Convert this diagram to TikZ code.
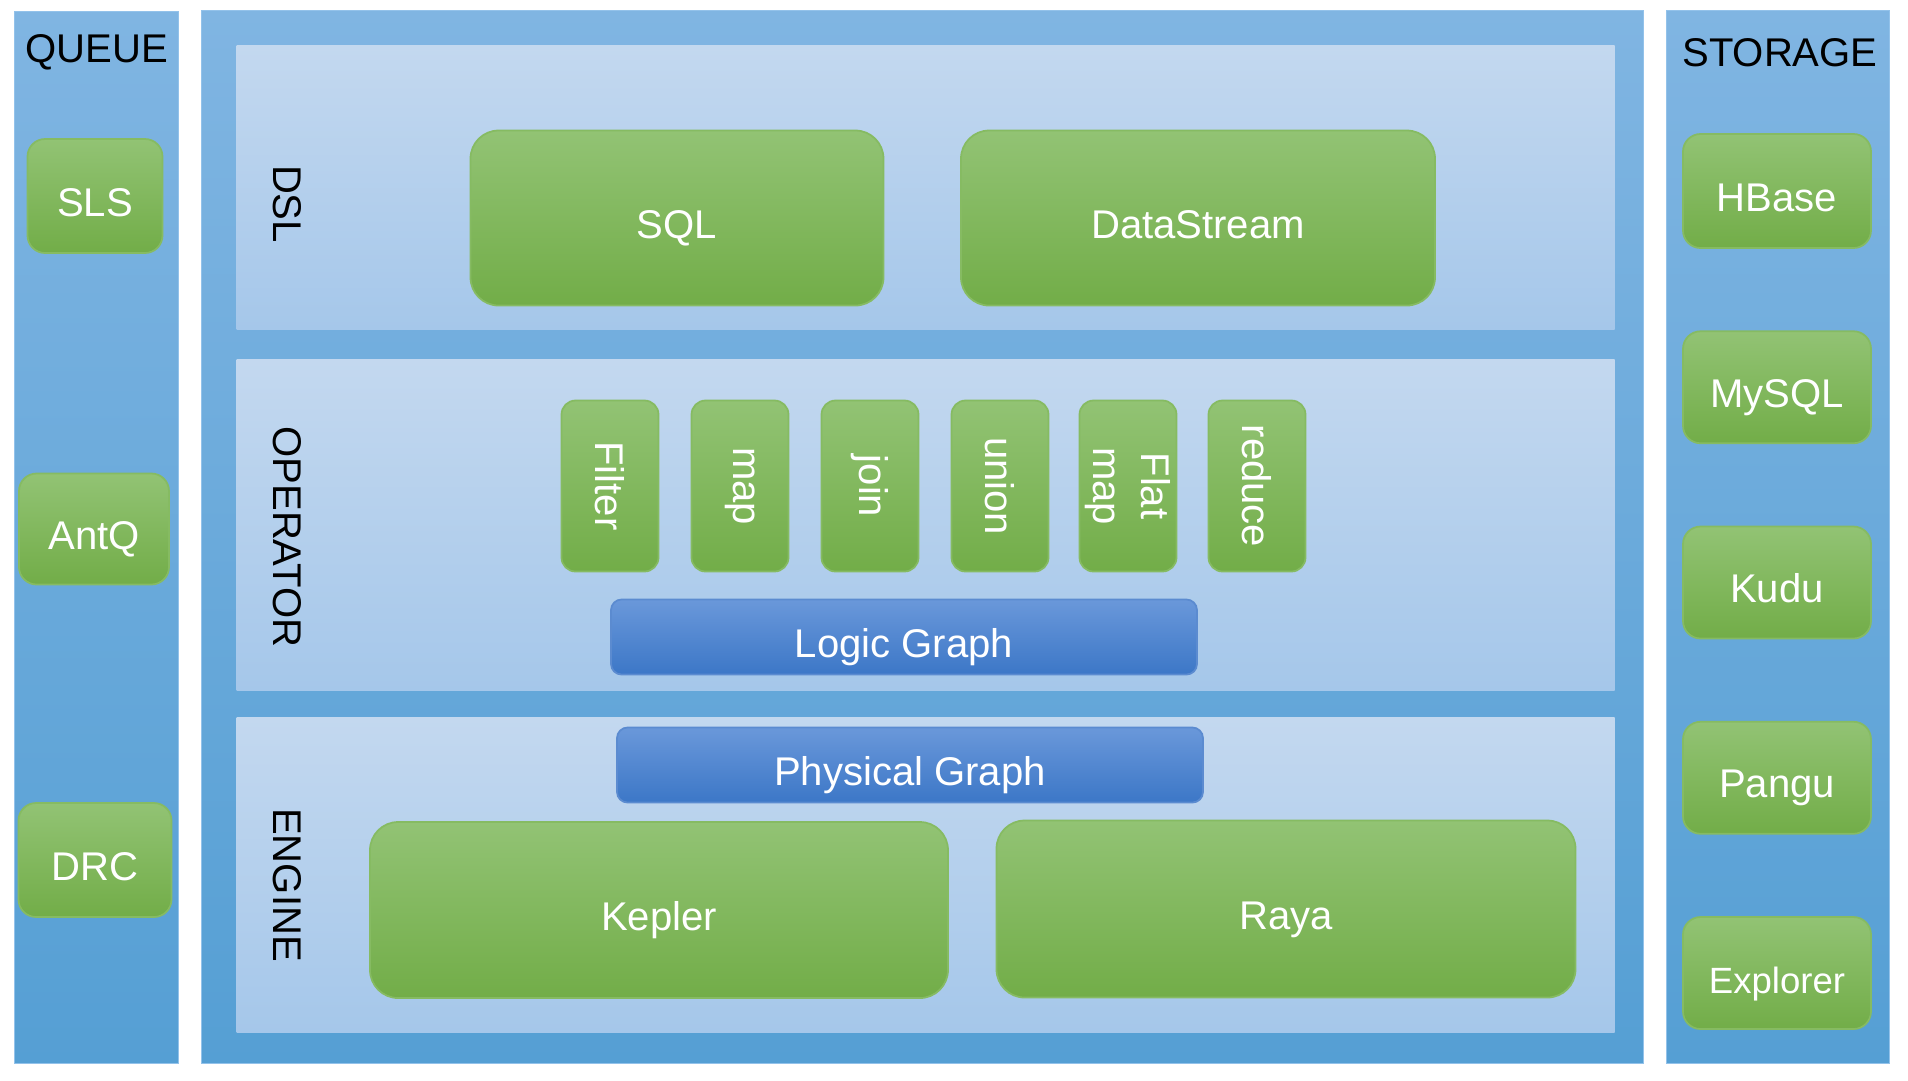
\documentclass[tikz,border=0pt]{standalone}
\usepackage{fontspec}
\setmainfont{Liberation Sans}
\usepackage{tikz}
\usetikzlibrary{positioning}
\definecolor{paneltop}{HTML}{80B5E2}
\definecolor{panelbot}{HTML}{559FD4}
\definecolor{paneledge}{HTML}{93C2EA}
\definecolor{layertop}{HTML}{C3D8EF}
\definecolor{layerbot}{HTML}{A5C7EA}
\definecolor{greentop}{HTML}{92C374}
\definecolor{greenbot}{HTML}{72AD48}
\definecolor{greenedge}{HTML}{86BB62}
\definecolor{graphtop}{HTML}{6A98DA}
\definecolor{graphbot}{HTML}{3C77C7}
\definecolor{graphedge}{HTML}{5B8BD0}
\newcommand{\boxfont}{\fontsize{11.4}{13.6}\selectfont}
\tikzset{
  panel/.style={rectangle,anchor=north west,top color=paneltop,bottom color=panelbot,
    draw=paneledge,line width=0.4pt,inner sep=0pt},
  layer/.style={rectangle,anchor=north west,top color=layertop,bottom color=layerbot,
    inner sep=0pt,minimum width=13.78cm},
  greenbase/.style={rectangle,rounded corners=5pt,top color=greentop,bottom color=greenbot,
    draw=greenedge,line width=0.5pt,text=white,font=\boxfont,inner sep=0pt},
  lowtext/.style={text height=11.4pt,text depth=0pt},
  greenbox/.style={greenbase,lowtext},
  bigbox/.style={greenbox,rounded corners=8pt,minimum height=1.75cm},
  sidebox/.style={greenbox,minimum width=1.88cm,minimum height=1.12cm},
  opbox/.style={greenbase,rounded corners=4pt,rotate=-90,align=center,
    minimum width=1.71cm,minimum height=0.97cm},
  graphbox/.style={rectangle,rounded corners=3pt,top color=graphtop,bottom color=graphbot,
    draw=graphedge,line width=0.5pt,text=white,font=\boxfont,inner sep=0pt,lowtext,
    minimum width=5.86cm,minimum height=0.75cm},
  tierlabel/.style={font=\boxfont,text=black},
}

\begin{document}
\begin{tikzpicture}[x=0.1mm, y=-0.1mm, node distance=0.815cm]
  \useasboundingbox (0,0) rectangle (1908,1080);

  % columns and layers
  \node[panel, minimum width=1.64cm, minimum height=10.52cm] (queue) at (14,11) {};
  \node[panel, minimum width=14.42cm, minimum height=10.53cm] (main) at (201,10) {};
  \node[panel, minimum width=2.23cm, minimum height=10.53cm] (storage) at (1666,10) {};
  \node[layer, minimum height=2.84cm] (dsllayer) at (236,45) {};
  \node[layer, minimum height=3.31cm] (oplayer) at (236,359) {};
  \node[layer, minimum height=3.15cm] (enginelayer) at (236,717) {};

  % queue side
  \node[tierlabel] (queuelbl) at (97,52) {QUEUE};
  \node[greenbox, minimum width=1.35cm, minimum height=1.14cm] (sls) at (95,196) {SLS};
  \node[greenbox, minimum width=1.50cm, minimum height=1.11cm] (antq) at (94,529) {AntQ};
  \node[greenbox, minimum width=1.53cm, minimum height=1.14cm] (drc) at (95,860) {DRC};

  % storage side
  \node[tierlabel] (storagelbl) at (1780,53) {STORAGE};
  \node[sidebox, minimum height=1.14cm] (hbase) at (1777,191) {HBase};
  \node[sidebox, below=of hbase] (mysql) {MySQL};
  \node[sidebox, below=of mysql] (kudu) {Kudu};
  \node[sidebox, below=of kudu] (pangu) {Pangu};
  \node[sidebox, below=of pangu, font=\fontsize{10.4}{12.4}\selectfont] (explorer) {Explorer};

  % DSL
  \node[tierlabel, rotate=-90] (dsllbl) at (287,204) {DSL};
  \node[bigbox, minimum width=4.13cm] (sql) at (677,218) {SQL};
  \node[bigbox, minimum width=4.74cm] (datastream) at (1198,218) {DataStream};

  % OPERATOR
  \node[tierlabel, rotate=-90] (oplbl) at (287,537) {OPERATOR};
  \node[opbox] (filter) at (610,486) {Filter};
  \node[opbox] (map) at (740,486) {map};
  \node[opbox] (join) at (870,486) {join};
  \node[opbox] (union) at (1000,486) {union};
  \node[opbox] (flatmap) at (1128,486) {Flat\\map};
  \node[opbox] (reduce) at (1257,486) {reduce};
  \node[graphbox] (logic) at (904,637) {Logic Graph};

  % ENGINE
  \node[tierlabel, rotate=-90] (enginelbl) at (287,885) {ENGINE};
  \node[graphbox] (physical) at (910,765) {Physical Graph};
  \node[bigbox, minimum width=5.78cm, minimum height=1.76cm] (kepler) at (659,910) {Kepler};
  \node[bigbox, minimum width=5.79cm, minimum height=1.77cm] (raya) at (1286,909) {Raya};
\end{tikzpicture}
\end{document}
